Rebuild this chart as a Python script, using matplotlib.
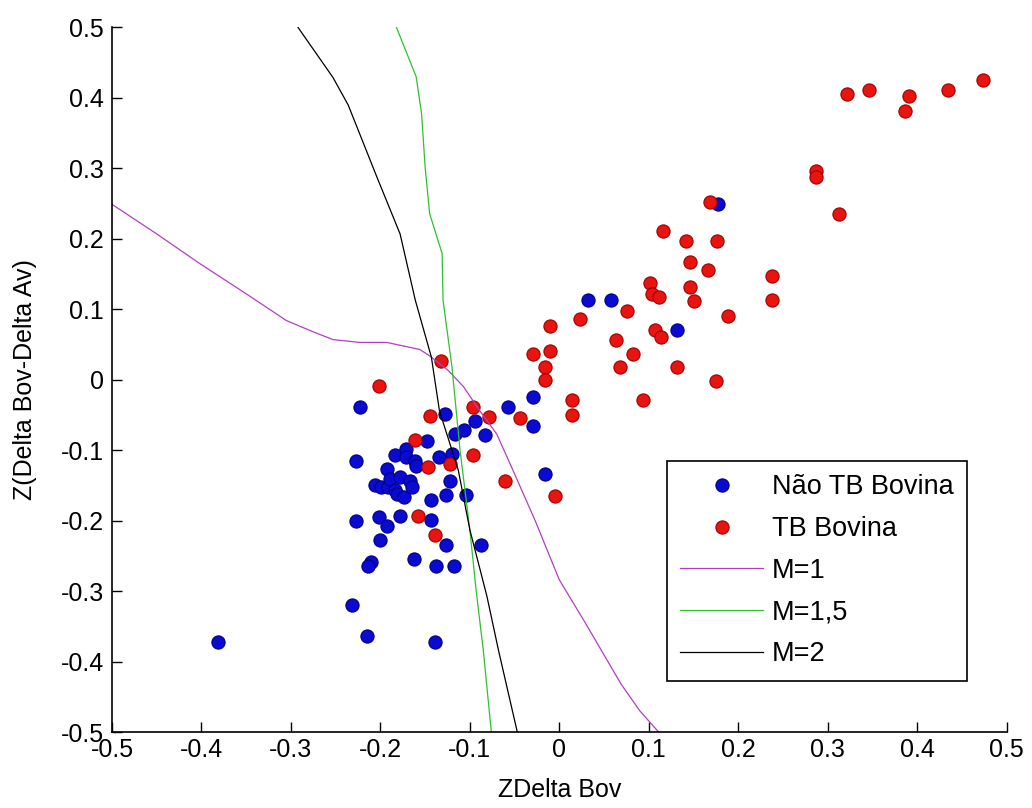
import matplotlib
matplotlib.use('Agg')
import matplotlib.pyplot as plt
from matplotlib.ticker import FuncFormatter

plt.rcParams['font.family'] = ['Liberation Sans', 'DejaVu Sans']
plt.rcParams['axes.unicode_minus'] = False

# Nao TB Bovina (blue points)
nao_x = [-0.381, -0.232, -0.215, -0.139, -0.227, -0.223, -0.227, -0.210, -0.214,
         -0.202, -0.193, -0.201, -0.178, -0.162, -0.138, -0.118, -0.127, -0.088,
         -0.143, -0.144, -0.127, -0.122, -0.104,
         -0.206, -0.199, -0.191, -0.193, -0.189, -0.184, -0.184, -0.182, -0.178,
         -0.174, -0.171, -0.171, -0.167, -0.165, -0.161, -0.160,
         -0.148, -0.128, -0.134, -0.120, -0.117, -0.107, -0.094, -0.083, -0.057,
         -0.030, -0.030, -0.016, 0.032, 0.058, 0.132, 0.177]
nao_y = [-0.372, -0.320, -0.364, -0.372, -0.115, -0.039, -0.200, -0.259, -0.264,
         -0.195, -0.207, -0.228, -0.193, -0.254, -0.264, -0.264, -0.235, -0.234,
         -0.199, -0.170, -0.163, -0.144, -0.164,
         -0.150, -0.152, -0.152, -0.126, -0.141, -0.107, -0.157, -0.162, -0.138,
         -0.167, -0.098, -0.110, -0.143, -0.152, -0.115, -0.123,
         -0.087, -0.048, -0.110, -0.105, -0.077, -0.072, -0.058, -0.079, -0.038,
         -0.024, -0.065, -0.134, 0.113, 0.113, 0.071, 0.250]

# TB Bovina (red points)
tb_x = [-0.202, -0.132, -0.145, -0.161, -0.147, -0.122, -0.158, -0.139, -0.096,
        -0.079, -0.096, -0.061, -0.044, -0.005, -0.030, -0.011, -0.011, -0.016,
        -0.016, 0.014, 0.014, 0.023, 0.063, 0.068, 0.076, 0.082, 0.093, 0.101,
        0.103, 0.111, 0.107, 0.114, 0.116, 0.132, 0.141, 0.146, 0.146, 0.150,
        0.166, 0.168, 0.175, 0.176, 0.189, 0.238, 0.238, 0.287, 0.287, 0.312,
        0.321, 0.346, 0.386, 0.391, 0.434, 0.474]
tb_y = [-0.009, 0.026, -0.052, -0.085, -0.124, -0.119, -0.193, -0.220, -0.038,
        -0.053, -0.107, -0.143, -0.054, -0.165, 0.036, 0.077, 0.041, 0.018,
        0.000, -0.029, -0.050, 0.086, 0.056, 0.018, 0.097, 0.036, -0.029, 0.137,
        0.122, 0.117, 0.070, 0.061, 0.211, 0.018, 0.197, 0.167, 0.132, 0.112,
        0.156, 0.252, -0.002, 0.197, 0.091, 0.147, 0.113, 0.297, 0.288, 0.235,
        0.406, 0.411, 0.381, 0.403, 0.411, 0.425]

# separation curves
m1_x = [-0.5, -0.45, -0.402, -0.35, -0.305, -0.275, -0.253, -0.223, -0.193, -0.156,
        -0.145, -0.124, -0.107, -0.089, -0.070, -0.052, -0.027, 0.0, 0.029, 0.069,
        0.090, 0.111]
m1_y = [0.249, 0.207, 0.165, 0.122, 0.084, 0.068, 0.057, 0.053, 0.053, 0.043,
        0.034, 0.013, -0.010, -0.044, -0.077, -0.128, -0.2, -0.284, -0.345, -0.432,
        -0.470, -0.5]

m15_x = [-0.182, -0.160, -0.154, -0.150, -0.145, -0.131, -0.130, -0.120, -0.111,
         -0.100, -0.093, -0.085, -0.076]
m15_y = [0.5, 0.43, 0.378, 0.302, 0.236, 0.179, 0.113, 0.018, -0.100,
         -0.213, -0.299, -0.384, -0.5]

m2_x = [-0.292, -0.253, -0.236, -0.204, -0.178, -0.161, -0.143, -0.134, -0.113,
        -0.100, -0.081, -0.068, -0.047]
m2_y = [0.5, 0.429, 0.39, 0.288, 0.207, 0.113, 0.032, -0.044, -0.128,
        -0.213, -0.307, -0.384, -0.5]

ticks = [-0.5, -0.4, -0.3, -0.2, -0.1, 0, 0.1, 0.2, 0.3, 0.4, 0.5]

fig = plt.figure(figsize=(10.32, 8.08), dpi=100)
ax = fig.add_axes([0.1085, 0.094, 0.867, 0.872])

ax.plot(nao_x, nao_y, 'o', color='#0a0ad0', mec='#00008a', ms=9.5, mew=0.8,
        label='Não TB Bovina')
ax.plot(tb_x, tb_y, 'o', color='#e8140f', mec='#a00000', ms=9.5, mew=0.8,
        label='TB Bovina')
ax.plot(m1_x, m1_y, '-', color='#b040c0', lw=0.9, label='M=1')
ax.plot(m15_x, m15_y, '-', color='#30c030', lw=0.9, label='M=1,5')
ax.plot(m2_x, m2_y, '-', color='black', lw=0.9, label='M=2')

ax.set_xlim(-0.5, 0.5)
ax.set_ylim(-0.5, 0.5)
ax.set_xticks(ticks)
ax.set_yticks(ticks)
fmt = FuncFormatter(lambda v, p: '%g' % round(v, 2))
ax.xaxis.set_major_formatter(fmt)
ax.yaxis.set_major_formatter(fmt)
ax.tick_params(direction='in', length=7, width=1, labelsize=18, pad=4)
ax.tick_params(axis='y', pad=6)
ax.spines['top'].set_visible(False)
ax.spines['right'].set_visible(False)
ax.spines['left'].set_linewidth(1.2)
ax.spines['bottom'].set_linewidth(1.2)

ax.set_xlabel('ZDelta Bov', fontsize=18, labelpad=12)
ax.set_ylabel('Z(Delta Bov-Delta Av)', fontsize=18, labelpad=17)

leg = ax.legend(loc='upper left', bbox_to_anchor=(0.62, 0.385), fontsize=19.5,
                frameon=True, fancybox=False, framealpha=1, edgecolor='black',
                handlelength=3.05, handletextpad=0.33, labelspacing=0.58,
                borderpad=0.5, borderaxespad=0)
leg.get_frame().set_linewidth(1.2)

plt.savefig('out.png', dpi=100)
